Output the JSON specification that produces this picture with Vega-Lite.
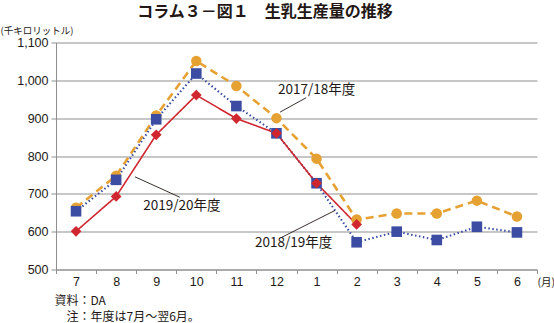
{
  "$schema": "https://vega.github.io/schema/vega-lite/v6.json",
  "width": 481,
  "height": 227,
  "autosize": {"type": "none"},
  "padding": {"left": 56, "top": 42.5, "right": 17, "bottom": 53.5},
  "background": "white",
  "title": {
    "text": "コラム３－図１　生乳生産量の推移",
    "font": "Noto Sans CJK JP",
    "fontSize": 16,
    "fontWeight": "bold",
    "color": "#231815",
    "anchor": "middle",
    "frame": "group",
    "dx": -31.5,
    "offset": 6
  },
  "config": {"view": {"stroke": null}, "font": "Noto Sans CJK JP"},
  "datasets": {
    "milk": [
      {"year": "2017/18年度", "month": "7", "i": 0, "v": 663},
      {"year": "2017/18年度", "month": "8", "i": 1, "v": 748},
      {"year": "2017/18年度", "month": "9", "i": 2, "v": 907},
      {"year": "2017/18年度", "month": "10", "i": 3, "v": 1051},
      {"year": "2017/18年度", "month": "11", "i": 4, "v": 985},
      {"year": "2017/18年度", "month": "12", "i": 5, "v": 900},
      {"year": "2017/18年度", "month": "1", "i": 6, "v": 793},
      {"year": "2017/18年度", "month": "2", "i": 7, "v": 632},
      {"year": "2017/18年度", "month": "3", "i": 8, "v": 648},
      {"year": "2017/18年度", "month": "4", "i": 9, "v": 648},
      {"year": "2017/18年度", "month": "5", "i": 10, "v": 682},
      {"year": "2017/18年度", "month": "6", "i": 11, "v": 640},
      {"year": "2018/19年度", "month": "7", "i": 0, "v": 654},
      {"year": "2018/19年度", "month": "8", "i": 1, "v": 737},
      {"year": "2018/19年度", "month": "9", "i": 2, "v": 897},
      {"year": "2018/19年度", "month": "10", "i": 3, "v": 1018},
      {"year": "2018/19年度", "month": "11", "i": 4, "v": 932},
      {"year": "2018/19年度", "month": "12", "i": 5, "v": 860},
      {"year": "2018/19年度", "month": "1", "i": 6, "v": 728},
      {"year": "2018/19年度", "month": "2", "i": 7, "v": 572},
      {"year": "2018/19年度", "month": "3", "i": 8, "v": 600},
      {"year": "2018/19年度", "month": "4", "i": 9, "v": 578},
      {"year": "2018/19年度", "month": "5", "i": 10, "v": 613},
      {"year": "2018/19年度", "month": "6", "i": 11, "v": 598},
      {"year": "2019/20年度", "month": "7", "i": 0, "v": 601},
      {"year": "2019/20年度", "month": "8", "i": 1, "v": 693},
      {"year": "2019/20年度", "month": "9", "i": 2, "v": 856},
      {"year": "2019/20年度", "month": "10", "i": 3, "v": 961},
      {"year": "2019/20年度", "month": "11", "i": 4, "v": 899},
      {"year": "2019/20年度", "month": "12", "i": 5, "v": 860},
      {"year": "2019/20年度", "month": "1", "i": 6, "v": 728},
      {"year": "2019/20年度", "month": "2", "i": 7, "v": 619}
    ],
    "labels": [
      {"label": "2017/18年度", "i": 6.0, "v": 975},
      {"label": "2019/20年度", "i": 2.64, "v": 667},
      {"label": "2018/19年度", "i": 5.43, "v": 570}
    ],
    "leaders": [
      {"i": 5.09, "v": 916, "i2": 5.74, "v2": 954},
      {"i": 1.47, "v": 745, "i2": 2.59, "v2": 691},
      {"i": 5.13, "v": 585, "i2": 6.46, "v2": 656}
    ]
  },
  "encoding": {
    "x": {
      "field": "i",
      "type": "quantitative",
      "scale": {"domain": [-0.5, 11.5], "nice": false, "zero": false},
      "axis": {
        "values": [-0.5, 0, 0.5, 1, 1.5, 2, 2.5, 3, 3.5, 4, 4.5, 5, 5.5, 6, 6.5, 7, 7.5, 8, 8.5, 9, 9.5, 10, 10.5, 11, 11.5],
        "labelExpr": "datum.value % 1 === 0 ? '' + (datum.value < 6 ? datum.value + 7 : datum.value - 5) : ''",
        "labelOverlap": false,
        "labelBound": false,
        "labelFlush": false,
        "labelFont": "Liberation Sans",
        "labelFontSize": 12.5,
        "labelColor": "#231815",
        "labelPadding": 2,
        "tickSize": 4,
        "tickColor": "#8f8f8f",
        "tickOpacity": {"condition": {"test": "datum.value % 1 === 0", "value": 0}, "value": 1},
        "domainColor": "#8f8f8f",
        "grid": false,
        "title": ["資料：DA", "\u200b\u3000注：年度は7月～翌6月。"],
        "titleFont": "Noto Sans CJK JP",
        "titleFontSize": 12,
        "titleFontWeight": "normal",
        "titleColor": "#231815",
        "titleAnchor": "start",
        "titleAlign": "left",
        "titleBaseline": "middle",
        "titleLineHeight": 16,
        "titleX": -2,
        "titleY": 31
      }
    }
  },
  "layer": [
    {
      "encoding": {
        "y": {
          "field": "v",
          "type": "quantitative",
          "scale": {"domain": [500, 1100], "nice": false, "zero": false},
          "axis": {
            "values": [500, 600, 700, 800, 900, 1000, 1100],
            "format": ",.0f",
            "labelOverlap": false,
            "labelFont": "Liberation Sans",
            "labelFontSize": 12.5,
            "labelColor": "#231815",
            "labelPadding": 3,
            "tickSize": 5,
            "tickColor": "#8f8f8f",
            "domainColor": "#8f8f8f",
            "gridColor": "#8f8f8f",
            "grid": true,
            "title": "(千キロリットル)",
            "titleFont": "Noto Sans CJK JP",
            "titleFontSize": 9.5,
            "titleFontWeight": "normal",
            "titleColor": "#231815",
            "titleAngle": 0,
            "titleAlign": "left",
            "titleBaseline": "middle",
            "titleX": -56,
            "titleY": -12
          }
        }
      },
      "layer": [
        {
          "data": {"name": "milk"},
          "mark": {"type": "line"},
          "encoding": {
            "color": {
              "field": "year",
              "type": "nominal",
              "scale": {"domain": ["2017/18年度", "2018/19年度", "2019/20年度"], "range": ["#E6A133", "#3B4CA2", "#D0262F"]},
              "legend": null
            },
            "strokeDash": {
              "field": "year",
              "type": "nominal",
              "scale": {"domain": ["2017/18年度", "2018/19年度", "2019/20年度"], "range": [[8, 5], [1.5, 2.5], [1, 0]]},
              "legend": null
            },
            "strokeWidth": {
              "field": "year",
              "type": "nominal",
              "scale": {"domain": ["2017/18年度", "2018/19年度", "2019/20年度"], "range": [2.6, 1.6, 2.4]},
              "legend": null
            }
          }
        },
        {
          "data": {"name": "milk"},
          "mark": {"type": "point", "filled": true, "opacity": 1},
          "encoding": {
            "color": {"field": "year", "type": "nominal", "legend": null},
            "shape": {
              "field": "year",
              "type": "nominal",
              "scale": {"domain": ["2017/18年度", "2018/19年度", "2019/20年度"], "range": ["circle", "square", "diamond"]},
              "legend": null
            },
            "size": {
              "field": "year",
              "type": "nominal",
              "scale": {"domain": ["2017/18年度", "2018/19年度", "2019/20年度"], "range": [110, 115, 85]},
              "legend": null
            }
          }
        },
        {
          "data": {"name": "labels"},
          "mark": {"type": "text", "font": "Noto Sans CJK JP", "fontSize": 13.5, "color": "#231815", "align": "center", "baseline": "middle"},
          "encoding": {
            "text": {"field": "label"}
          }
        }
      ]
    },
    {
      "data": {"name": "leaders"},
      "mark": {"type": "rule", "color": "#231815", "strokeWidth": 0.9},
      "encoding": {
        "x2": {"field": "i2"},
        "y": {
          "field": "v",
          "type": "quantitative",
          "scale": {"domain": [500, 1100], "nice": false, "zero": false},
          "axis": {
            "orient": "right",
            "domain": false,
            "ticks": false,
            "labels": false,
            "grid": false,
            "title": "(月)",
            "titleFont": "Noto Sans CJK JP",
            "titleFontSize": 10.5,
            "titleFontWeight": "normal",
            "titleColor": "#231815",
            "titleAngle": 0,
            "titleAlign": "left",
            "titleBaseline": "middle",
            "titleX": 0,
            "titleY": 239.5
          }
        },
        "y2": {"field": "v2"}
      }
    }
  ],
  "resolve": {"scale": {"y": "independent"}, "axis": {"y": "independent"}}
}
